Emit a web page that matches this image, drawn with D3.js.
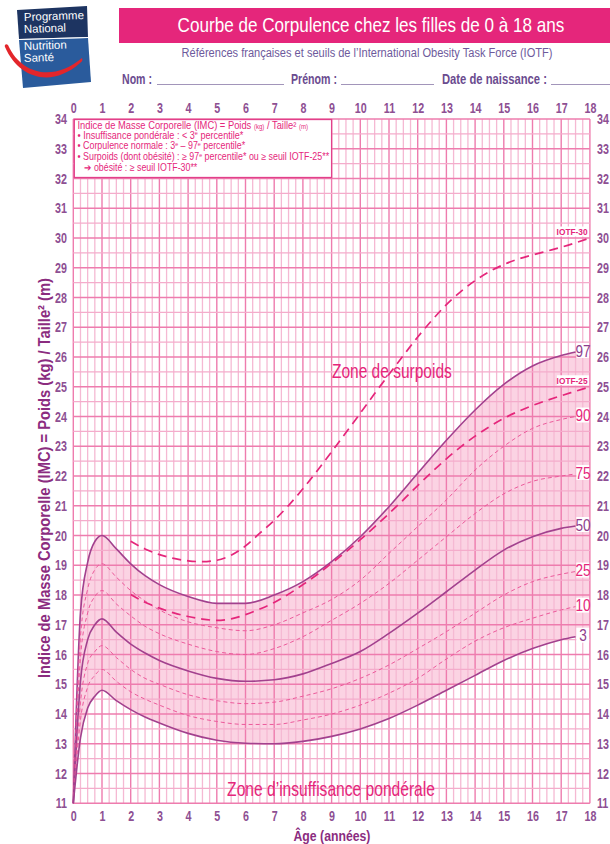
<!DOCTYPE html>
<html>
<head>
<meta charset="utf-8">
<script src="https://cdn.jsdelivr.net/npm/d3@7"></script>
<style>
  body { margin: 0; background: #fff; }
  svg text { font-family: 'Liberation Sans', Arial, sans-serif; }
</style>
</head>
<body>
<div id="chart"></div>
<script>
// ages (years) at which the French percentile curves were read
var ages = [0, 0.25, 0.5, 0.75, 1, 1.5, 2, 2.5, 3, 4, 5, 6, 7, 8, 9, 10, 11, 12, 13, 14, 15, 16, 17, 17.5];

var p97 = [11.0, 17.4, 19.1, 19.8, 20.0, 19.55, 19.05, 18.65, 18.35, 17.95, 17.72, 17.72, 18.0, 18.45, 19.12, 19.96, 20.97, 22.09, 23.2, 24.22, 25.08, 25.7, 26.05, 26.17];
var p90 = [11.0, 16.6, 18.2, 18.85, 19.05, 18.6, 18.15, 17.8, 17.5, 17.1, 16.9, 16.8, 17.0, 17.4, 17.85, 18.5, 19.4, 20.3, 21.2, 22.2, 23.0, 23.6, 23.9, 24.0];
var p75 = [11.0, 15.9, 17.4, 17.95, 18.15, 17.7, 17.3, 16.95, 16.7, 16.35, 16.1, 16.0, 16.2, 16.6, 17.15, 17.72, 18.39, 19.17, 19.96, 20.74, 21.4, 21.82, 22.0, 22.07];
var p50 = [11.0, 15.1, 16.5, 17.0, 17.2, 16.75, 16.35, 16.05, 15.8, 15.45, 15.2, 15.1, 15.15, 15.35, 15.7, 16.1, 16.71, 17.39, 18.11, 18.84, 19.51, 19.96, 20.24, 20.32];
var p25 = [11.0, 14.4, 15.7, 16.1, 16.3, 15.9, 15.5, 15.2, 15.0, 14.65, 14.45, 14.35, 14.4, 14.6, 14.85, 15.2, 15.65, 16.2, 16.77, 17.39, 18.0, 18.45, 18.7, 18.79];
var p10 = [11.0, 13.8, 14.9, 15.3, 15.5, 15.1, 14.75, 14.5, 14.3, 13.95, 13.75, 13.65, 13.65, 13.8, 14.0, 14.3, 14.7, 15.2, 15.85, 16.45, 16.9, 17.22, 17.5, 17.61];
var p3  = [11.0, 13.2, 14.2, 14.6, 14.8, 14.45, 14.15, 13.9, 13.7, 13.35, 13.12, 13.02, 13.0, 13.08, 13.25, 13.5, 13.85, 14.3, 14.8, 15.3, 15.8, 16.2, 16.5, 16.6];

// IOTF cut-offs, ages 2 to 18
var iotfAges = [2, 2.5, 3, 3.5, 4, 4.5, 5, 5.5, 6, 6.5, 7, 7.5, 8, 8.5, 9, 9.5, 10, 10.5, 11, 11.5, 12, 12.5, 13, 13.5, 14, 14.5, 15, 15.5, 16, 16.5, 17, 17.5, 18];
var iotf25 = [18.02, 17.76, 17.56, 17.40, 17.28, 17.19, 17.15, 17.20, 17.34, 17.53, 17.75, 18.03, 18.35, 18.69, 19.07, 19.45, 19.86, 20.29, 20.74, 21.20, 21.68, 22.14, 22.58, 22.98, 23.34, 23.66, 23.94, 24.17, 24.37, 24.54, 24.70, 24.85, 25.00];
var iotf30 = [19.81, 19.55, 19.36, 19.23, 19.15, 19.12, 19.17, 19.34, 19.65, 20.08, 20.51, 21.01, 21.57, 22.18, 22.81, 23.46, 24.11, 24.77, 25.42, 26.05, 26.67, 27.24, 27.76, 28.20, 28.57, 28.87, 29.11, 29.29, 29.43, 29.56, 29.69, 29.84, 30.00];

var ageTicks = [0, 1, 2, 3, 4, 5, 6, 7, 8, 9, 10, 11, 12, 13, 14, 15, 16, 17, 18];
var bmiTicks = [11, 12, 13, 14, 15, 16, 17, 18, 19, 20, 21, 22, 23, 24, 25, 26, 27, 28, 29, 30, 31, 32, 33, 34];

var width = 610, height = 844;
var pink = "#e5267b", purple = "#8e4f93", plum = "#8b2c7f";

var svg = d3.select("#chart").append("svg")
  .attr("width", width)
  .attr("height", height);

var x = d3.scaleLinear().domain([0, 18]).range([73.3, 589.9]);
var y = d3.scaleLinear().domain([11, 34]).range([803.3, 119]);

// squeeze a text horizontally (condensed look) around its anchor x
function condense(sel, k, targetWidth) {
  sel.each(function() {
    var f = k;
    if (targetWidth) f = targetWidth / this.getComputedTextLength();
    var ax = +this.getAttribute("x") || 0;
    d3.select(this).attr("transform",
      "translate(" + ax + ",0) scale(" + f + ",1) translate(" + (-ax) + ",0)");
  });
}

// ---------- header ----------
var logo = svg.append("g");
logo.append("path").attr("d", "M17,10 L87,6 L88,37 L19,39 Z").attr("fill", "#1d3461");
logo.append("path").attr("d", "M19,40 L88,38 L91,82 L23,88 Z").attr("fill", "#2a5b9c");
logo.append("path").attr("d", "M19,39.5 L88,37.5").attr("stroke", "#fff").attr("stroke-width", 0.8);
logo.append("path")
  .attr("d", "M5,47 C4,45 6,43 8,45 C22,76 55,81 82,58 C83,60 82,62 80,63 C52,88 19,79 5,47 Z")
  .attr("fill", "#e3262b");
[["Programme", 21], ["National", 33], ["Nutrition", 50], ["Santé", 62]].forEach(function(t) {
  logo.append("text").attr("x", 24).attr("y", t[1])
    .attr("transform", "rotate(-2,24," + t[1] + ")")
    .attr("fill", "#fff").attr("font-size", 11.5)
    .text(t[0]);
});

svg.append("rect").attr("x", 119).attr("y", 8).attr("width", 491).attr("height", 35).attr("fill", pink);
svg.append("text").attr("x", 371).attr("y", 32.5).attr("text-anchor", "middle")
  .attr("fill", "#fff").attr("font-size", 21)
  .text("Courbe de Corpulence chez les filles de 0 à 18 ans")
  .call(condense, null, 387);
svg.append("text").attr("x", 367).attr("y", 57).attr("text-anchor", "middle")
  .attr("fill", "#6d5a9c").attr("font-size", 12.5)
  .text("Références françaises et seuils de l’International Obesity Task Force (IOTF)")
  .call(condense, null, 371);

var form = [["Nom :", 122, 30, 157, 284], ["Prénom :", 291, 46, 341, 434], ["Date de naissance :", 442, 105, 551, 610]];
form.forEach(function(f) {
  svg.append("text").attr("x", f[1]).attr("y", 84).attr("fill", "#6b4b8f")
    .attr("font-size", 14).attr("font-weight", "bold").text(f[0])
    .call(condense, null, f[2]);
  svg.append("line").attr("x1", f[3]).attr("x2", f[4]).attr("y1", 84.5).attr("y2", 84.5)
    .attr("stroke", "#8a7aa8").attr("stroke-width", 0.8);
});

// ---------- zone fill (3rd - 97th percentile) ----------
var band = ages.map(function(a, i) { return [a, p3[i], p97[i]]; });
band.push([18, p3[p3.length - 1], p97[p97.length - 1]]);

svg.append("path")
  .datum(band)
  .attr("fill", "#fbd3e3")
  .attr("d", d3.area()
    .x(function(d) { return x(d[0]); })
    .y0(function(d) { return y(d[1]); })
    .y1(function(d) { return y(d[2]); })
    .curve(d3.curveMonotoneX));

// ---------- grid ----------
var grid = svg.append("g");
var vLines = d3.range(0, 18.001, 0.25).sort(function(a, b) { return (a % 1 === 0) - (b % 1 === 0); });
var hLines = d3.range(11, 34.001, 0.5).sort(function(a, b) { return (a % 1 === 0) - (b % 1 === 0); });

grid.selectAll("line.v").data(vLines).enter().append("line")
  .attr("class", "v")
  .attr("x1", function(d) { return x(d); }).attr("x2", function(d) { return x(d); })
  .attr("y1", y(34)).attr("y2", y(11))
  .attr("stroke", function(d) { return d % 1 === 0 ? "#ee7cae" : "#f5b9d3"; })
  .attr("stroke-width", function(d) { return d % 1 === 0 ? 1.4 : 1.3; });

grid.selectAll("line.h").data(hLines).enter().append("line")
  .attr("class", "h")
  .attr("x1", x(0)).attr("x2", x(18))
  .attr("y1", function(d) { return y(d); }).attr("y2", function(d) { return y(d); })
  .attr("stroke", function(d) { return d % 1 === 0 ? "#ee7cae" : "#f4accb"; })
  .attr("stroke-width", function(d) { return d % 1 === 0 ? 1.4 : 1.2; });

// ---------- curves ----------
var line = d3.line()
  .x(function(d) { return x(d[0]); })
  .y(function(d) { return y(d[1]); })
  .curve(d3.curveMonotoneX);

var percentiles = [
  {label: "97", values: p97, solid: true},
  {label: "90", values: p90, solid: false},
  {label: "75", values: p75, solid: false},
  {label: "50", values: p50, solid: true},
  {label: "25", values: p25, solid: false},
  {label: "10", values: p10, solid: false},
  {label: "3",  values: p3,  solid: true}
];

var curves = svg.append("g");
percentiles.forEach(function(p) {
  curves.append("path")
    .datum(ages.map(function(a, i) { return [a, p.values[i]]; }))
    .attr("fill", "none")
    .attr("stroke", p.solid ? "#a2418e" : "#ec5a9b")
    .attr("stroke-width", p.solid ? 1.6 : 1)
    .attr("stroke-dasharray", p.solid ? null : "4,3")
    .attr("d", line);
});

var iotf = [
  {label: "IOTF-30", values: iotf30},
  {label: "IOTF-25", values: iotf25}
];
iotf.forEach(function(s) {
  curves.append("path")
    .datum(iotfAges.map(function(a, i) { return [a, s.values[i]]; }))
    .attr("fill", "none")
    .attr("stroke", pink)
    .attr("stroke-width", 1.7)
    .attr("stroke-dasharray", "9,6")
    .attr("d", line);
});

// curve labels at the right end
var labels = svg.append("g");
percentiles.forEach(function(p) {
  var last = p.values[p.values.length - 1];
  var cy = y(last) - 1.5;
  labels.append("rect")
    .attr("x", x(17.5) + 0.8).attr("y", cy - 7.5)
    .attr("width", x(18) - x(17.5) - 1.6).attr("height", 15)
    .attr("fill", "#fff");
  labels.append("text")
    .attr("x", x(17.76)).attr("y", cy + 6.2)
    .attr("text-anchor", "middle")
    .attr("font-size", 17)
    .attr("fill", p.solid ? "#8e3d8c" : pink)
    .text(p.label)
    .call(condense, 0.8);
});
iotf.forEach(function(s) {
  var last = s.values[s.values.length - 1];
  var cy = y(last) - 6.5;
  labels.append("rect")
    .attr("x", x(16.85)).attr("y", cy - 5)
    .attr("width", x(18) - x(16.85) - 1).attr("height", 10)
    .attr("fill", "#fff");
  labels.append("text")
    .attr("x", x(17.38)).attr("y", cy + 3.3)
    .attr("text-anchor", "middle")
    .attr("font-size", 9.5).attr("font-weight", "bold")
    .attr("fill", pink)
    .text(s.label)
    .call(condense, null, 31);
});

// ---------- legend box ----------
var legend = svg.append("g");
legend.append("rect")
  .attr("x", x(0) + 1).attr("y", y(34) + 0.5)
  .attr("width", x(9) - x(0) - 1).attr("height", y(32) - y(34) - 1.5)
  .attr("fill", "#fff").attr("stroke", "#e2408a").attr("stroke-width", 1.3);

function legendLine(yy, xx, w, parts) {
  var t = legend.append("text").attr("x", xx).attr("y", yy)
    .attr("font-size", 10).attr("fill", pink);
  var lift = false;
  parts.forEach(function(p) {
    if (typeof p === "string") {
      t.append("tspan").attr("dy", lift ? 3.5 : null).text(p);
      lift = false;
    } else if (p.sup) {
      t.append("tspan").attr("font-size", 6).attr("dy", lift ? null : -3.5).text(p.sup);
      lift = true;
    } else if (p.sub) {
      t.append("tspan").attr("font-size", 6.5).attr("dy", lift ? 3.5 : null).text(p.sub);
      lift = false;
    }
  });
  t.call(condense, null, w);
}
legendLine(128.6, 77.5, 231, ["Indice de Masse Corporelle (IMC) = Poids ", {sub: "(kg)"}, " / Taille² ", {sub: "(m)"}]);
legendLine(139, 77.5, 166, ["• Insuffisance pondérale : < 3", {sup: "e"}, " percentile*"]);
legendLine(149.4, 77.5, 168, ["• Corpulence normale : 3", {sup: "e"}, " – 97", {sup: "e"}, " percentile*"]);
legendLine(160.2, 77.5, 252, ["• Surpoids (dont obésité) : ≥ 97", {sup: "e"}, " percentile* ou ≥ seuil IOTF-25**"]);
legendLine(171.2, 84, 113, ["➔ obésité : ≥ seuil IOTF-30**"]);

// ---------- zone labels ----------
svg.append("text").attr("x", x(11.1)).attr("y", y(25.28))
  .attr("text-anchor", "middle").attr("font-size", 20.5).attr("fill", pink)
  .text("Zone de surpoids")
  .call(condense, null, 120);
svg.append("text").attr("x", x(8.98)).attr("y", y(11.26))
  .attr("text-anchor", "middle").attr("font-size", 20.5).attr("fill", pink)
  .text("Zone d’insuffisance pondérale")
  .call(condense, null, 208);

// ---------- axes ----------
function styleAxis(g) {
  g.select(".domain").remove();
  g.selectAll("text").attr("fill", purple).attr("font-size", 14.5)
    .attr("font-weight", "bold")
    .style("font-family", "'Liberation Sans', Arial, sans-serif")
    .attr("transform", "scale(0.74,1)");
}
svg.append("g").attr("transform", "translate(0,113)")
  .call(d3.axisTop(x).tickValues(ageTicks).tickSize(0).tickPadding(0))
  .call(styleAxis);
svg.append("g").attr("transform", "translate(0,811)")
  .call(d3.axisBottom(x).tickValues(ageTicks).tickSize(0).tickPadding(0))
  .call(styleAxis);
svg.append("g").attr("transform", "translate(67,0)")
  .call(d3.axisLeft(y).tickValues(bmiTicks).tickSize(0).tickPadding(0))
  .call(styleAxis);
svg.append("g").attr("transform", "translate(597,0)")
  .call(d3.axisRight(y).tickValues(bmiTicks).tickSize(0).tickPadding(0))
  .call(styleAxis);

svg.append("text").attr("x", 332).attr("y", 841)
  .attr("text-anchor", "middle").attr("font-size", 15).attr("font-weight", "bold")
  .attr("fill", plum).text("Âge (années)")
  .call(condense, null, 77);

svg.append("text")
  .attr("transform", "translate(50,478) rotate(-90)")
  .attr("text-anchor", "middle").attr("font-size", 16).attr("font-weight", "bold")
  .attr("fill", plum)
  .attr("textLength", 400).attr("lengthAdjust", "spacingAndGlyphs")
  .text("Indice de Masse Corporelle (IMC) = Poids (kg) / Taille² (m)");
</script>
</body>
</html>
